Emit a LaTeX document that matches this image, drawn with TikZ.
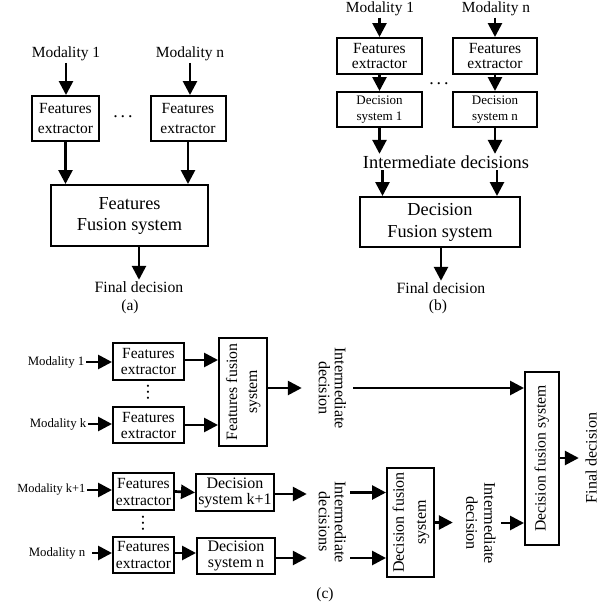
\documentclass[tikz,border=0pt]{standalone}
\usepackage{fontspec}
\setmainfont{Liberation Serif}
\usepackage{graphicx}
\usetikzlibrary{arrows.meta}
\newcommand\fsz[2]{\fontsize{#1}{#2}\selectfont}
\newcommand\rotup[1]{\rotatebox{90}{\begin{tabular}{@{}c@{}}#1\end{tabular}}}
\newcommand\rotdn[1]{\rotatebox{-90}{\begin{tabular}{@{}c@{}}#1\end{tabular}}}
\newcommand\hdots{.\kern2.8pt.\kern2.8pt.}
\newcommand\vdotsx{\rotatebox{90}{.\kern1.6pt.\kern1.6pt.}}
\begin{document}
\begin{tikzpicture}[x=1pt,y=-1pt,
  box/.style={draw,line width=2pt,inner sep=0pt,align=center},
  lbl/.style={inner sep=1.5pt,align=center},
  rl/.style={inner sep=0pt},
  dots/.style={inner sep=0pt,font=\fsz{18}{18}},
  arr/.style={line width=2.7pt,-{Triangle[length=14pt,width=14pt]}},
]
\useasboundingbox (0,0) rectangle (606,613);

% ---------------- (a)
\node[lbl,font=\fsz{15.5}{18}] (am1) at (66,54) {Modality 1};
\node[lbl,font=\fsz{15.5}{18}] (amn) at (190,54) {Modality n};
\node[box,minimum width=67pt,minimum height=45pt,font=\fsz{15.5}{20}] (af1) at (65.5,118.5) {Features\\extractor};
\node[box,minimum width=75pt,minimum height=45pt,font=\fsz{15.5}{20}] (afn) at (188,118.5) {Features\\extractor};
\node[dots] (adots) at (123,117) {\hdots};
\node[box,minimum width=157pt,minimum height=61pt,font=\fsz{18.3}{21}] (afu) at (129.5,215.5) {Features\\Fusion system};
\node[lbl,font=\fsz{15.7}{18}] (afd) at (139,287) {Final decision};
\node[lbl,font=\fsz{15.5}{18}] (acap) at (130,307) {(a)};
\draw[arr] (am1.south) -- (am1.south |- af1.north);
\draw[arr] (amn.south) -- (amn.south |- afn.north);
\draw[arr] (af1.south) -- (af1.south |- afu.north);
\draw[arr] (afn.south) -- (afn.south |- afu.north);
\draw[arr] (afd.north |- afu.south) -- (afd.north);

% ---------------- (b)
\node[lbl,font=\fsz{15.4}{18}] (bm1) at (380,9) {Modality 1};
\node[lbl,font=\fsz{15.4}{18}] (bmn) at (496,9) {Modality n};
\node[box,minimum width=85pt,minimum height=36pt,font=\fsz{15.5}{15}] (bf1) at (379.5,56) {Features\\extractor};
\node[box,minimum width=84pt,minimum height=36pt,font=\fsz{15.5}{15}] (bfn) at (495,56) {Features\\extractor};
\node[box,minimum width=85pt,minimum height=35pt,font=\fsz{13}{16}] (bd1) at (379.5,109.5) {Decision\\system 1};
\node[box,minimum width=84pt,minimum height=35pt,font=\fsz{13}{16}] (bdn) at (495,109.5) {Decision\\system n};
\node[dots] (bdots) at (439,84) {\hdots};
\node[lbl,font=\fsz{18.4}{20}] (bid) at (446,162) {Intermediate decisions};
\node[box,minimum width=160pt,minimum height=50pt,font=\fsz{18.3}{22}] (bfu) at (440,222) {Decision\\Fusion system};
\node[lbl,font=\fsz{15.7}{18}] (bfd) at (441,288) {Final decision};
\node[lbl,font=\fsz{15.5}{18}] (bcap) at (438,307) {(b)};
\draw[arr] (bm1.south -| bf1.north) -- (bf1.north);
\draw[arr] (bmn.south -| bfn.north) -- (bfn.north);
\draw[arr] (bf1.south) -- (bd1.north);
\draw[arr] (bfn.south) -- (bdn.north);
\draw[arr] (bd1.south) -- (bd1.south |- bid.north);
\draw[arr] (bdn.south) -- (bdn.south |- bid.north);
\draw[arr] ([xshift=3pt]bd1.south |- bid.south) -- ([xshift=3pt]bd1.south |- bfu.north);
\draw[arr] ([xshift=2pt]bdn.south |- bid.south) -- ([xshift=2pt]bdn.south |- bfu.north);
\draw[arr] (bfd.north |- bfu.south) -- (bfd.north);

% ---------------- (c) upper
\node[lbl,anchor=east,font=\fsz{12.8}{15}] (cm1) at (86,362) {Modality 1};
\node[lbl,anchor=east,font=\fsz{12.8}{15}] (cmk) at (88,424) {Modality k};
\node[box,minimum width=71pt,minimum height=37pt,font=\fsz{15.5}{16}] (c1) at (148.5,361.5) {Features\\extractor};
\node[box,minimum width=71pt,minimum height=36pt,font=\fsz{15.5}{16}] (c2) at (148.5,425) {Features\\extractor};
\node[dots] (cvd1) at (148,392) {\vdotsx};
\node[box,minimum width=48pt,minimum height=108pt,font=\fsz{15.8}{20}] (cff) at (243,392) {\rotup{Features fusion\\system}};
\node[rl,font=\fsz{16.2}{16}] (cid1) at (330,388) {\rotdn{Intermediate\\decision}};
\node[box,minimum width=34pt,minimum height=173pt,font=\fsz{15.7}{18}] (cbig) at (542,458.5) {\rotup{Decision fusion system}};
\node[rl,font=\fsz{16}{18}] (cfd) at (593,458) {\rotup{Final decision}};
\draw[arr] (cm1.east) -- (cm1.east -| c1.west);
\draw[arr] (cmk.east) -- (cmk.east -| c2.west);
\draw[arr] ([yshift=1.5pt]c1.east) -- ([yshift=1.5pt]c1.east -| cff.west);
\draw[arr] (c2.east) -- (c2.east -| cff.west);
\draw[arr,shorten >=12pt] (cff.east |- cid1.west) -- (cid1.west);
\draw[arr,shorten <=7pt] (cid1.east) -- (cid1.east -| cbig.west);
\draw[arr,shorten >=5pt] (cbig.east |- cfd.west) -- (cfd.west);

% ---------------- (c) lower
\node[lbl,anchor=east,font=\fsz{12.4}{15}] (cmk1) at (87,490) {Modality k+1};
\node[lbl,anchor=east,font=\fsz{12.8}{15}] (cmn) at (87,553) {Modality n};
\node[box,minimum width=61pt,minimum height=37pt,font=\fsz{15.5}{17}] (c3) at (143.5,491.5) {Features\\extractor};
\node[box,minimum width=61pt,minimum height=36pt,font=\fsz{15.5}{17}] (c5) at (143.5,555) {Features\\extractor};
\node[dots] (cvd2) at (143,523) {\vdotsx};
\node[box,minimum width=78pt,minimum height=37pt,font=\fsz{16}{16}] (c4) at (235,492.5) {Decision\\system k+1};
\node[box,minimum width=78pt,minimum height=36pt,font=\fsz{16}{16}] (c6) at (236,556) {Decision\\system n};
\node[rl,font=\fsz{16.2}{16}] (cid2) at (330,522) {\rotdn{Intermediate\\decisions}};
\node[box,minimum width=47pt,minimum height=109pt,font=\fsz{16}{22}] (csf) at (410.5,522.5) {\rotup{Decision fusion\\system}};
\node[rl,font=\fsz{16.2}{18}] (cid3) at (479,523) {\rotdn{Intermediate\\decision}};
\node[lbl,font=\fsz{15.5}{18}] (ccap) at (325,595) {(c)};
\draw[arr] (cmk1.east) -- (cmk1.east -| c3.west);
\draw[arr,shorten <=5pt] (cmn.east) -- (cmn.east -| c5.west);
\draw[arr] (c3.east) -- (c4.west);
\draw[arr] ([yshift=2pt]c5.east) -- ([yshift=2pt]c5.east -| c6.west);
\draw[arr,shorten >=7pt] ([yshift=-1.5pt]c4.east) -- ([yshift=-1.5pt]c4.east -| cid2.west);
\draw[arr,shorten >=7pt] ([yshift=-2pt]c6.east) -- ([yshift=-2pt]c6.east -| cid2.west);
\draw[arr,shorten <=4pt] (cid2.east |- c4.east) -- (c4.east -| csf.west);
\draw[arr,shorten <=4pt] ([yshift=-2pt]cid2.east |- c6.east) -- ([yshift=-2pt]c6.east -| csf.west);
\draw[arr,shorten >=8pt] (csf.east) -- (csf.east -| cid3.west);
\draw[arr,shorten <=4pt] (cid3.east) -- (cid3.east -| cbig.west);
\end{tikzpicture}
\end{document}
